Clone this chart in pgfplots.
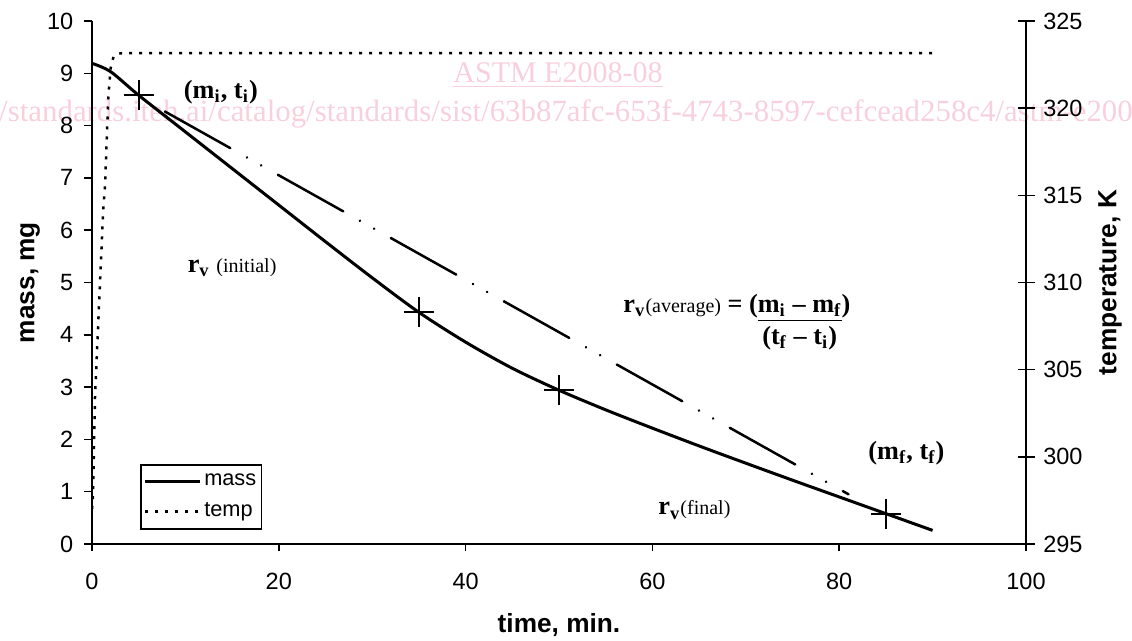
\documentclass[border=0pt]{standalone}
\usepackage{pgfplots}
\pgfplotsset{compat=1.18}
\usepackage{fontspec}
\setmainfont{Liberation Sans}
\newfontfamily\tnr{Liberation Serif}
\definecolor{wmark}{RGB}{248,208,220}

\newcommand{\bigb}{\tnr\fontsize{10.5}{12.6}\selectfont\bfseries}
\newcommand{\smallr}{\mdseries\fontsize{8}{9.6}\selectfont}

\begin{document}
\begin{tikzpicture}
\path[use as bounding box] (-36.8pt,-38.8pt) rectangle (416pt,217.6pt);

% watermark of the scanned page
\node[overlay, text=wmark, font=\tnr\fontsize{12}{14}\selectfont, anchor=base]
  at (186.4pt,184.4pt) {\underline{ASTM E2008-08}};
\node[overlay, text=wmark, font=\tnr\fontsize{12.35}{14}\selectfont, anchor=base west, inner sep=0pt]
  at (-37.3pt,168.8pt) {/standards.iteh.ai/catalog/standards/sist/63b87afc-653f-4743-8597-cefcead258c4/astm-e2008-08};

\begin{axis}[
    scale only axis,
    width=373.6pt, height=209.2pt,
    xmin=0, xmax=100, ymin=0, ymax=10,
    axis x line=bottom, axis y line=left,
    axis line style={-, line width=0.7pt},
    xtick={0,20,...,100}, ytick={0,1,...,10},
    tick align=outside, major tick length=3pt,
    tick style={black, line width=0.6pt},
    /pgf/number format/assume math mode=true,
    ticklabel style={font=\fontsize{9.4}{11}\selectfont},
    xticklabel style={yshift=-5pt},
    yticklabel style={xshift=-1pt},
    xlabel={time, min.}, ylabel={mass, mg},
    label style={font=\fontsize{10.5}{12}\selectfont\bfseries},
    xlabel style={at={(axis description cs:0.5,-0.155)}, anchor=center},
    ylabel style={at={(axis description cs:-0.0664,0.5)}, anchor=center},
    legend style={at={(axis description cs:0.0514,0.0268)}, anchor=south west,
        draw=black, line width=0.6pt, font=\fontsize{8.7}{10}\selectfont,
        inner xsep=1pt, inner ysep=1pt,
        nodes={inner xsep=1.2pt, inner ysep=2.6pt}},
    legend cell align=left,
    legend image code/.code={\draw[#1] (0pt,0pt) -- (22pt,0pt);},
]
% mass
\addplot[black, line width=1.2pt, smooth] coordinates {
    (0,9.19)(2,9.03)(5,8.58)(10,7.88)(15,7.18)(20,6.48)(25,5.78)(30,5.09)
    (35,4.43)(40,3.86)(45,3.36)(50,2.94)(55,2.565)(60,2.215)(65,1.875)
    (70,1.545)(75,1.22)(80,0.90)(85,0.58)(90,0.26)
};
\addlegendentry{mass}
\addlegendimage{black, line width=1pt, dash pattern=on 1.2pt off 2.8pt}
\addlegendentry{temp}

% points read on the mass curve
\addplot[forget plot, only marks, mark=+, mark size=6pt,
    mark options={line width=0.9pt, black}] coordinates {
    (5,8.58)(35,4.43)(50,2.94)(85,0.58)
};

% average rate chord
\addplot[forget plot, black, line width=1pt, line cap=round,
    dash pattern=on 30pt off 7.6pt on 0.1pt off 6.4pt on 0.1pt off 7.6pt]
    coordinates {(7.8,8.27)(81,0.95)};

\node[anchor=center, font=\bigb] at (axis cs:13.8,8.64) {(m\textsubscript{i}, t\textsubscript{i})};
\node[anchor=center, font=\bigb] at (axis cs:15.0,5.28) {r\textsubscript{v} {\smallr(initial)}};
\node[anchor=center, font=\bigb] at (axis cs:64.5,0.65) {r\textsubscript{v}{\smallr(final)}};
\node[anchor=center, font=\bigb] at (axis cs:87.2,1.74) {(m\textsubscript{f}, t\textsubscript{f})};
\node[anchor=base west, font=\bigb, inner sep=0pt] at (axis cs:56.85,4.42)
    {r\textsubscript{v}{\smallr(average)} = \begin{tabular}[t]{@{}c@{}}(\underline{m\textsubscript{i} \textendash{} m\textsubscript{f}})\\(t\textsubscript{f} \textendash{} t\textsubscript{i})\end{tabular}};
\end{axis}

\begin{axis}[
    scale only axis,
    width=373.6pt, height=209.2pt,
    xmin=0, xmax=100, ymin=295, ymax=325,
    axis x line=none, axis y line=right,
    axis line style={-, line width=0.7pt},
    ytick={295,300,...,325},
    tick align=center, major tick length=6.8pt,
    tick style={black, line width=0.6pt},
    /pgf/number format/assume math mode=true,
    ticklabel style={font=\fontsize{9.4}{11}\selectfont},
    ylabel={temperature, K},
    label style={font=\fontsize{10.5}{12}\selectfont\bfseries},
    ylabel style={at={(axis description cs:1.09,0.5)}, anchor=center, rotate=0},
]
% temperature
\addplot[black, line width=1pt, dash pattern=on 1.2pt off 2.8pt] coordinates {
    (0,297)(0.1,297.6)(0.32,303.4)(1.21,314.3)(1.39,315.5)(1.75,320.7)
    (2.0,322.3)(2.3,322.95)(2.7,323.12)(3.2,323.15)(90,323.15)
};
\end{axis}
\end{tikzpicture}
\end{document}
